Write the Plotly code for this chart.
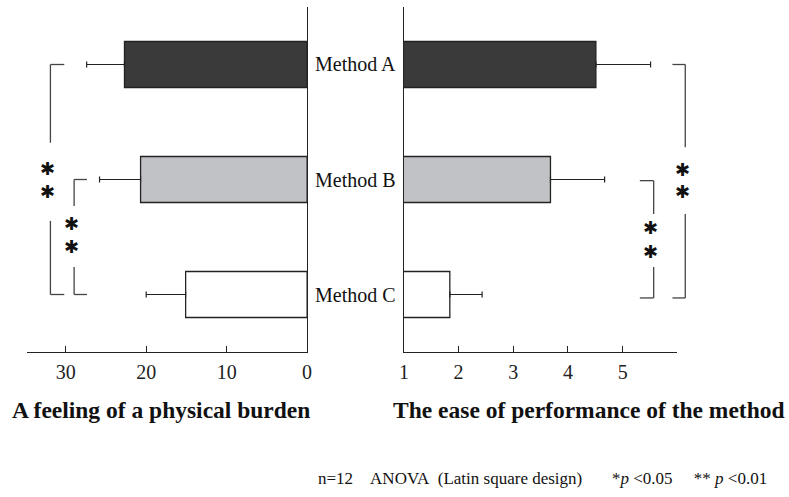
import plotly.graph_objects as go

methods = ["Method A", "Method B", "Method C"]
burden = [22.7, 20.7, 15.1]
burden_err = [4.7, 5.1, 4.9]
ease = [4.51, 3.68, 1.84]
ease_err = [1.00, 0.99, 0.59]
bar_colors = ["#3a3a3a", "#c1c2c5", "#ffffff"]
left_ticks = [0, 10, 20, 30]
right_ticks = [1, 2, 3, 4, 5]

W, H = 789, 497
SERIF = "Liberation Serif, Times New Roman, serif"
ypos = {"Method A": 2, "Method B": 1, "Method C": 0}

fig = go.Figure()
fig.add_trace(go.Bar(
    y=[ypos[m] for m in methods], x=burden, orientation="h", width=0.4,
    marker=dict(color=bar_colors, line=dict(color="#222", width=1.3)),
    error_x=dict(type="data", symmetric=False, array=burden_err,
                 arrayminus=[0] * 3, color="#222", thickness=1.2, width=3),
    xaxis="x", yaxis="y", showlegend=False))
fig.add_trace(go.Bar(
    y=[ypos[m] for m in methods], x=ease, orientation="h", width=0.4,
    marker=dict(color=bar_colors, line=dict(color="#222", width=1.3)),
    error_x=dict(type="data", symmetric=False, array=ease_err,
                 arrayminus=[0] * 3, color="#222", thickness=1.2, width=3),
    xaxis="x2", yaxis="y2", showlegend=False))

px = lambda v: v / W
py = lambda v: 1 - v / H
ydom = [py(352), py(7)]

axfont = dict(family=SERIF, size=20, color="#222")
fig.update_layout(
    width=W, height=H, margin=dict(l=0, r=0, t=0, b=0),
    plot_bgcolor="white", paper_bgcolor="white",
    xaxis=dict(domain=[px(22), px(306)], range=[34.85, 0], tickvals=left_ticks,
               showline=True, linecolor="#222", linewidth=1.3, ticks="inside",
               ticklen=6, tickcolor="#222", showgrid=False, zeroline=False,
               tickfont=axfont, anchor="y", ticklabelstandoff=2),
    yaxis=dict(domain=ydom, range=[-0.5, 2.5], side="right", showline=True,
               linecolor="#222", linewidth=1.3, showticklabels=False,
               showgrid=False, zeroline=False, anchor="x"),
    xaxis2=dict(domain=[px(404), px(681)], range=[1, 6], tickvals=right_ticks,
                showline=True, linecolor="#222", linewidth=1.3, ticks="inside",
                ticklen=6, tickcolor="#222", showgrid=False, zeroline=False,
                tickfont=axfont, anchor="y2", ticklabelstandoff=2),
    yaxis2=dict(domain=ydom, range=[-0.5, 2.5], side="left", showline=True,
                linecolor="#222", linewidth=1.3, showticklabels=False,
                showgrid=False, zeroline=False, anchor="x2"),
)

ann = []
for m in methods:
    ann.append(dict(x=px(355), y=ypos[m], xref="paper", yref="y", text=m,
                    xanchor="center", yanchor="middle", showarrow=False,
                    font=dict(family=SERIF, size=20, color="#111")))

line = dict(color="#444", width=1.3)
shapes = []

def seg(x0, y0, x1, y1, yref):
    shapes.append(dict(type="line", xref="paper", yref=yref,
                       x0=px(x0), x1=px(x1), y0=y0, y1=y1, line=line))

def bracket(xv, xh, ytop, ybot, gap_top, gap_bot, yref, stars):
    seg(xh, ytop, xv, ytop, yref)
    seg(xv, ytop, xv, gap_top, yref)
    seg(xv, gap_bot, xv, ybot, yref)
    seg(xv, ybot, xh, ybot, yref)
    for s in stars:
        ann.append(dict(x=px(xv - 3), y=s, xref="paper", yref=yref, text="✱",
                        xanchor="center", yanchor="middle", showarrow=False,
                        font=dict(family="DejaVu Sans", size=18, color="#111")))

# left panel brackets
bracket(46, 60, 2, 0, 1.32, 0.64, "y", [1.10, 0.90])
bracket(70, 83, 1, 0, 0.77, 0.24, "y", [0.62, 0.42])
# right panel brackets
bracket(689, 676, 2, -0.03, 1.28, 0.70, "y2", [1.09, 0.90])
bracket(657, 643, 0.99, -0.03, 0.70, 0.24, "y2", [0.58, 0.37])

ann.append(dict(x=px(158), y=py(410), xref="paper", yref="paper", xanchor="center",
                yanchor="middle", text="<b>A feeling of a physical burden</b>",
                showarrow=False, font=dict(family=SERIF, size=23.5, color="#111")))
ann.append(dict(x=px(592), y=py(410), xref="paper", yref="paper", xanchor="center",
                yanchor="middle", text="<b>The ease of performance of the method</b>",
                showarrow=False, font=dict(family=SERIF, size=23.5, color="#111")))
nb = "\u00a0"
foot = ("n=12" + nb * 4 + "ANOVA" + nb * 2 + "(Latin square design)" + nb * 7 +
        "*<i>p</i> <0.05" + nb * 5 + "** <i>p</i> <0.01")
ann.append(dict(x=px(315), y=py(478), xref="paper", yref="paper", xanchor="left",
                yanchor="middle", text=foot, showarrow=False,
                font=dict(family=SERIF, size=17, color="#111")))

fig.update_layout(annotations=ann, shapes=shapes)
fig.write_html("out.html")
